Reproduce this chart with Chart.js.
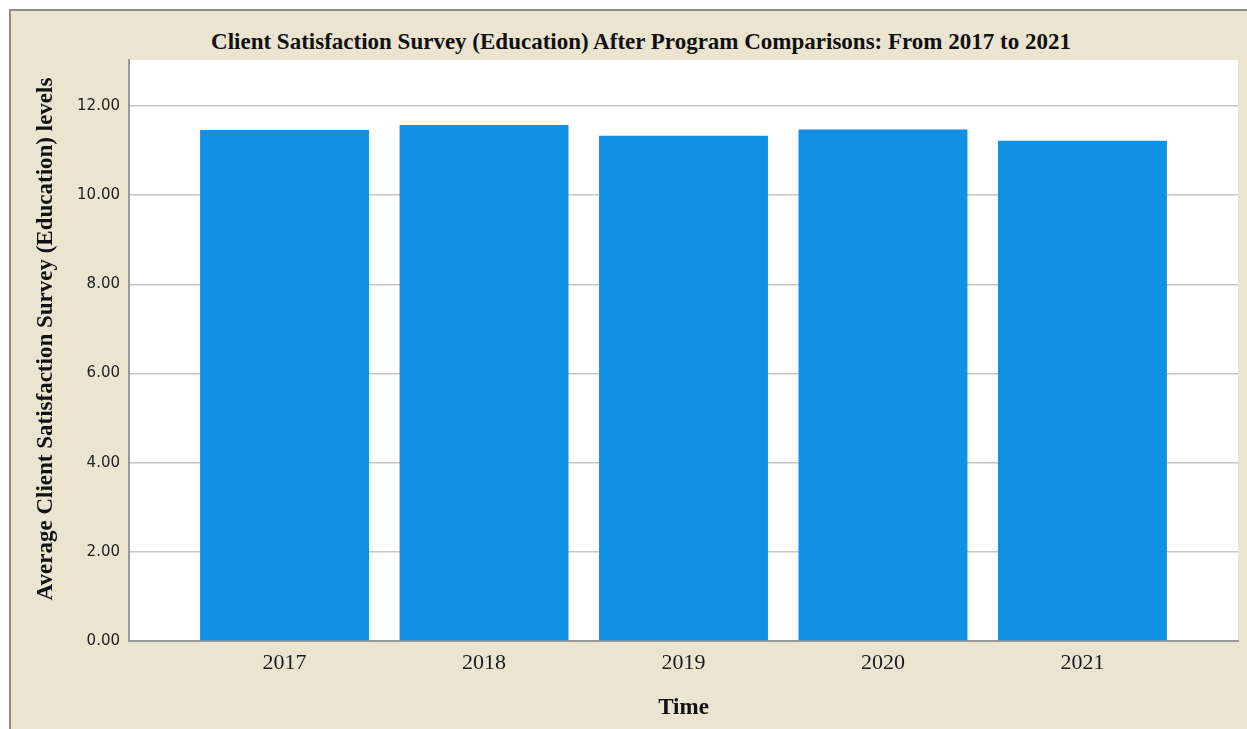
<!DOCTYPE html>
<html>
<head>
<meta charset="utf-8">
<script src="https://cdn.jsdelivr.net/npm/chart.js@4/dist/chart.umd.min.js"></script>
<style>
    html, body { margin: 0; padding: 0; background: #ffffff; overflow: hidden; }
    #frame {
        position: absolute; left: 9px; top: 9px; width: 1260px; height: 740px;
        background: #ebe4d0; border-left: 2px solid #8f8c84; border-top: 2px solid #8f8c84;
    }
    #title {
        position: absolute; left: 0; top: 29px; width: 1282px; text-align: center;
        font: bold 23px "Liberation Serif", serif; color: #111;
    }
    #wrap { position: absolute; left: 0; top: 0; width: 1247px; height: 729px; }
</style>
</head>
<body>
<div id="frame"></div>
<div id="title">Client Satisfaction Survey (Education) After Program Comparisons: From 2017 to 2021</div>
<div id="wrap"><canvas id="chart" width="1247" height="729"></canvas></div>
<script>
const years = [2017, 2018, 2019, 2020, 2021];
const satisfaction = [11.46, 11.57, 11.33, 11.47, 11.22];
const yTicks = [0, 2, 4, 6, 8, 10, 12];

document.addEventListener('DOMContentLoaded', function() {
    // white plot background behind the bars
    const plotBg = {
        id: 'plotBg',
        beforeDraw(chart) {
            const a = chart.chartArea;
            const ctx = chart.ctx;
            ctx.save();
            ctx.fillStyle = '#ffffff';
            ctx.fillRect(a.left, a.top, a.right - a.left, a.bottom - a.top);
            ctx.restore();
        }
    };

    const ctx = document.getElementById('chart').getContext('2d');
    new Chart(ctx, {
        type: 'bar',
        data: {
            datasets: [{
                label: 'Average Client Satisfaction Survey (Education)',
                data: years.map((yr, i) => ({ x: yr, y: satisfaction[i] })),
                backgroundColor: '#1290e6',
                borderWidth: 0,
                categoryPercentage: 1,
                barPercentage: 0.847
            }]
        },
        options: {
            responsive: false,
            animation: false,
            layout: { padding: { top: 60, right: 9, left: 0, bottom: 0 } },
            plugins: {
                legend: { display: false },
                tooltip: { enabled: false }
            },
            scales: {
                x: {
                    type: 'linear',
                    offset: false,
                    min: 2016.22,
                    max: 2021.78,
                    afterBuildTicks: s => { s.ticks = years.map(v => ({ value: v })); },
                    afterFit: s => { s.height = 88; },
                    grid: { display: false, drawTicks: false, offset: false },
                    border: { color: '#9a9a9a', width: 2 },
                    ticks: {
                        padding: 9,
                        color: '#1a1a1a',
                        font: { family: '"Liberation Serif", serif', size: 22 },
                        callback: v => String(v)
                    },
                    title: {
                        display: true,
                        text: 'Time',
                        color: '#111',
                        font: { family: '"Liberation Serif", serif', size: 23, weight: 'bold' },
                        padding: { top: 0, bottom: 7 }
                    }
                },
                y: {
                    min: 0,
                    max: 13.03,
                    afterBuildTicks: s => { s.ticks = yTicks.map(v => ({ value: v })); },
                    afterFit: s => { s.width = 129; },
                    grid: { color: '#c6c6c6', lineWidth: 1.5, drawTicks: false },
                    border: { color: '#9a9a9a', width: 2 },
                    ticks: {
                        padding: 9,
                        color: '#222',
                        font: { family: '"DejaVu Sans", sans-serif', size: 15 },
                        callback: v => Number(v).toFixed(2)
                    },
                    title: {
                        display: true,
                        text: '    Average Client Satisfaction Survey (Education) levels',
                        color: '#111',
                        font: { family: '"Liberation Serif", serif', size: 23, weight: 'bold' },
                        padding: { top: 32, bottom: 0 }
                    }
                }
            }
        },
        plugins: [plotBg]
    });
});
</script>
</body>
</html>
